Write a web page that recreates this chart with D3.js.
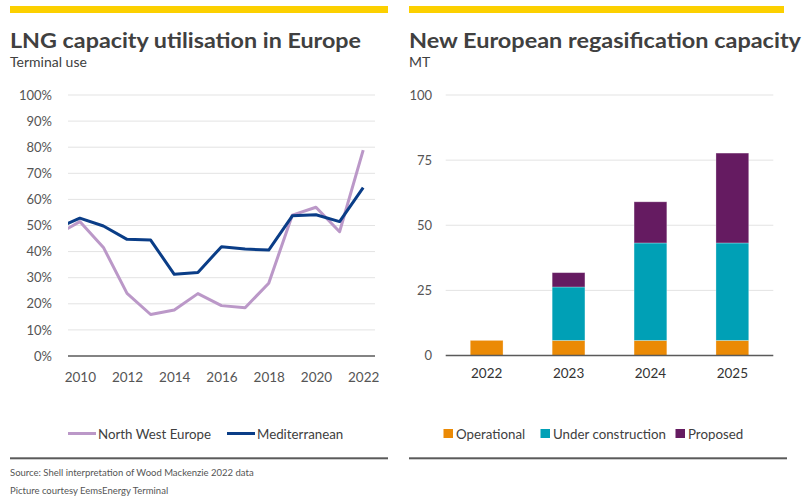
<!DOCTYPE html>
<html><head><meta charset="utf-8">
<script src="https://cdn.jsdelivr.net/npm/d3@7"></script>
<style>
body{margin:0;background:#fff;}
text{font-family:Lato,"Open Sans",sans-serif;}
</style></head>
<body><svg id="c" width="806" height="500"></svg>
<script>
// ---- Left chart data ----
const years = [2009, 2010, 2011, 2012, 2013, 2014, 2015, 2016, 2017, 2018, 2019, 2020, 2021, 2022];
const nwe = [46.3, 51.5, 41.6, 24.0, 15.9, 17.6, 23.9, 19.3, 18.5, 27.9, 54.0, 57.0, 47.6, 78.9];
const med = [48.8, 52.8, 49.8, 44.7, 44.4, 31.3, 32.0, 41.9, 41.0, 40.6, 53.7, 54.1, 51.5, 64.5];
const pctTicks = [0, 10, 20, 30, 40, 50, 60, 70, 80, 90, 100];
const yearTicks = [2010, 2012, 2014, 2016, 2018, 2020, 2022];
const lineSeries = ["North West Europe", "Mediterranean"];

// ---- Right chart data ----
const capYears = ["2022", "2023", "2024", "2025"];
const operational = [5.8, 5.8, 5.8, 5.8];
const underConstruction = [0, 20.5, 37.4, 37.4];
const proposed = [0, 5.5, 15.8, 34.5];
const capTicks = [0, 25, 50, 75, 100];
const barSeries = ["Operational", "Under construction", "Proposed"];

const svg = d3.select("#c");
const txt = "#404040", tick = "#555";

// header bars
svg.append("rect").attr("x", 10).attr("y", 6).attr("width", 378).attr("height", 7).attr("fill", "#fcd000");
svg.append("rect").attr("x", 409).attr("y", 6).attr("width", 375).attr("height", 7).attr("fill", "#fcd000");

// titles
svg.append("text").attr("x", 10).attr("y", 48).attr("font-size", 20).attr("font-weight", 700).attr("fill", txt)
  .attr("textLength", 351).attr("lengthAdjust", "spacingAndGlyphs").text("LNG capacity utilisation in Europe");
svg.append("text").attr("x", 10).attr("y", 66.5).attr("font-size", 14).attr("fill", txt).text("Terminal use");
svg.append("text").attr("x", 409).attr("y", 48).attr("font-size", 20).attr("font-weight", 700).attr("fill", txt)
  .attr("textLength", 392).attr("lengthAdjust", "spacingAndGlyphs").text("New European regasification capacity");
svg.append("text").attr("x", 409).attr("y", 66.5).attr("font-size", 14).attr("fill", txt).text("MT");

// ---- Left chart ----
const x = d3.scaleLinear().domain([2009.5, 2022.5]).range([68, 375]);
const y = d3.scaleLinear().domain([0, 100]).range([356, 95]);

const gl = svg.append("g");
gl.selectAll("line.grid").data(pctTicks.filter(d => d > 0)).join("line")
  .attr("x1", 68).attr("x2", 375).attr("y1", d => y(d)).attr("y2", d => y(d))
  .attr("stroke", "#e3e3e3").attr("stroke-width", 1);

const yAxisL = d3.axisLeft(y).tickValues(pctTicks).tickFormat(d => d + "%").tickSize(0).tickPadding(0);
const yag = gl.append("g").attr("transform", "translate(52,0)").call(yAxisL);
yag.select(".domain").remove();
yag.selectAll("text").attr("font-size", 13).attr("fill", tick).attr("font-family", "Lato,sans-serif");

const xAxisL = d3.axisBottom(x).tickValues(yearTicks).tickFormat(d3.format("d")).tickSize(0).tickPadding(0);
const xag = gl.append("g").attr("transform", "translate(0,372)").call(xAxisL);
xag.select(".domain").remove();
xag.selectAll("text").attr("font-size", 13.5).attr("fill", tick).attr("font-family", "Lato,sans-serif");

svg.append("defs").append("clipPath").attr("id", "clipL").append("rect")
  .attr("x", 68).attr("y", 80).attr("width", 307).attr("height", 290);

const line = d3.line().x((d, i) => x(years[i])).y(d => y(d));
const colNWE = "#bb98c8", colMED = "#0a3d87";
const lg = gl.append("g").attr("clip-path", "url(#clipL)");
lg.append("path").attr("d", line(nwe)).attr("fill", "none").attr("stroke", colNWE).attr("stroke-width", 3).attr("stroke-linejoin", "round");
lg.append("path").attr("d", line(med)).attr("fill", "none").attr("stroke", colMED).attr("stroke-width", 3).attr("stroke-linejoin", "round");

gl.append("line").attr("x1", 68).attr("x2", 375).attr("y1", y(0)).attr("y2", y(0)).attr("stroke", "#5a5a5a").attr("stroke-width", 1.5);

// left legend
const legL = [{n: lineSeries[0], c: colNWE, x: 68, tx: 98}, {n: lineSeries[1], c: colMED, x: 227, tx: 257}];
legL.forEach(d => {
  svg.append("line").attr("x1", d.x).attr("x2", d.x + 28).attr("y1", 433.5).attr("y2", 433.5).attr("stroke", d.c).attr("stroke-width", 3);
  svg.append("text").attr("x", d.tx).attr("y", 438.5).attr("font-size", 13.3).attr("fill", txt).text(d.n);
});

// ---- Right chart ----
const xb = d3.scaleBand().domain(capYears).range([445.7, 773.3]).paddingInner(0.6).paddingOuter(0.3);
const yb = d3.scaleLinear().domain([0, 100]).range([355.5, 95]);

const gr = svg.append("g");
gr.selectAll("line.grid").data(capTicks.filter(d => d > 0)).join("line")
  .attr("x1", 445.7).attr("x2", 773.3).attr("y1", d => yb(d)).attr("y2", d => yb(d))
  .attr("stroke", "#e3e3e3").attr("stroke-width", 1);

const yAxisR = d3.axisLeft(yb).tickValues(capTicks).tickSize(0).tickPadding(0);
const yrg = gr.append("g").attr("transform", "translate(432,0)").call(yAxisR);
yrg.select(".domain").remove();
yrg.selectAll("text").attr("font-size", 13).attr("fill", tick).attr("font-family", "Lato,sans-serif");

const xAxisR = d3.axisBottom(xb).tickSize(0).tickPadding(0);
const xrg = gr.append("g").attr("transform", "translate(0,368)").call(xAxisR);
xrg.select(".domain").remove();
xrg.selectAll("text").attr("font-size", 13.5).attr("fill", "#333").attr("font-family", "Lato,sans-serif");

const barColors = ["#eb8a05", "#00a0b6", "#651b61"];
const table = capYears.map((k, i) => ({year: k, Operational: operational[i], "Under construction": underConstruction[i], Proposed: proposed[i]}));
const stack = d3.stack().keys(barSeries)(table);
stack.forEach((s, si) => {
  gr.append("g").selectAll("rect").data(s.filter(d => d[1] - d[0] > 0)).join("rect")
    .attr("x", d => xb(d.data.year)).attr("width", xb.bandwidth())
    .attr("y", d => yb(d[1])).attr("height", d => yb(d[0]) - yb(d[1]))
    .attr("fill", barColors[si]).attr("stroke", "rgba(255,255,255,0.35)").attr("stroke-width", 0.8);
});

gr.append("line").attr("x1", 445.7).attr("x2", 773.3).attr("y1", yb(0)).attr("y2", yb(0)).attr("stroke", "#5a5a5a").attr("stroke-width", 1.5);

// right legend
const legR = [{x: 443.5, tx: 456}, {x: 540.5, tx: 553}, {x: 675.5, tx: 688}];
barSeries.forEach((n, i) => {
  svg.append("rect").attr("x", legR[i].x).attr("y", 429).attr("width", 9.5).attr("height", 9).attr("fill", barColors[i]);
  svg.append("text").attr("x", legR[i].tx).attr("y", 438.5).attr("font-size", 13.3).attr("fill", txt).text(n);
});

// bottom rules and source
svg.append("rect").attr("x", 10).attr("y", 457.3).attr("width", 378).attr("height", 2).attr("fill", "#5a5a5a");
svg.append("rect").attr("x", 409).attr("y", 457.3).attr("width", 378).attr("height", 2).attr("fill", "#5a5a5a");
svg.append("text").attr("x", 10).attr("y", 475.5).attr("font-size", 9.5).attr("fill", tick).text("Source: Shell interpretation of Wood Mackenzie 2022 data");
svg.append("text").attr("x", 10).attr("y", 493.5).attr("font-size", 9.5).attr("fill", tick).text("Picture courtesy EemsEnergy Terminal");
</script></body></html>
